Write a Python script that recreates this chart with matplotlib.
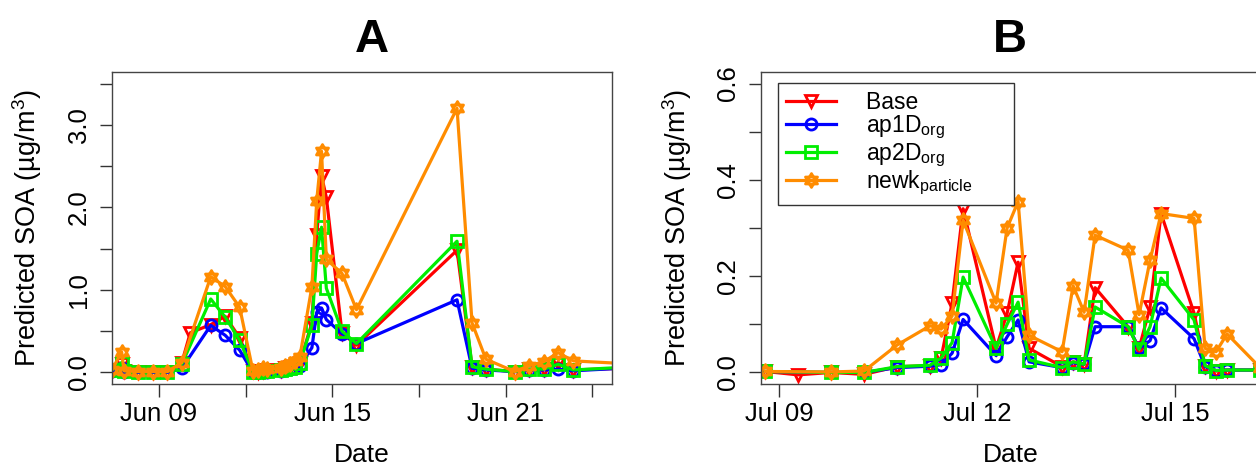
import numpy as np
import pandas as pd
import matplotlib
matplotlib.use('Agg')
import matplotlib.pyplot as plt
import matplotlib.dates as mdates
from matplotlib.path import Path
from matplotlib.ticker import FixedLocator, NullFormatter

plt.rcParams['font.family'] = ['Liberation Sans', 'DejaVu Sans']
plt.rcParams['mathtext.fontset'] = 'custom'
plt.rcParams['mathtext.rm'] = 'Liberation Sans'
plt.rcParams['mathtext.it'] = 'Liberation Sans:italic'
plt.rcParams['mathtext.bf'] = 'Liberation Sans:bold'

nan = np.nan

# ---- panel A: June 2013 ----
times_a = ["06-07 09:00", "06-07 17:00", "06-07 19:00", "06-08 07:00", "06-08 19:00",
           "06-09 07:00", "06-09 19:00", "06-10 02:00", "06-10 19:00", "06-11 07:00",
           "06-11 19:00", "06-12 06:00", "06-12 10:00", "06-12 14:00", "06-12 18:00",
           "06-13 05:00", "06-13 09:00", "06-13 13:00", "06-13 17:00", "06-13 21:00",
           "06-14 07:00", "06-14 11:00", "06-14 15:00", "06-14 19:00", "06-15 08:00",
           "06-15 20:00", "06-19 07:30", "06-19 20:00", "06-20 07:30", "06-21 07:30",
           "06-21 19:00", "06-22 07:30", "06-22 19:30", "06-23 08:00", "06-24 23:00"]
base_a = [0.03, 0.10, 0.02, 0.01, 0.01, 0.01, 0.12, 0.48, 0.58, 0.68,
          0.42, 0.02, 0.01, 0.02, 0.03, 0.03, 0.05, 0.06, 0.08, 0.12,
          0.60, 1.66, 2.38, 2.12, 0.48, 0.33, 1.48, 0.07, 0.04, 0.01,
          0.04, 0.04, 0.12, 0.03, 0.05]
ap1d_a = [0.02, 0.05, 0.01, 0.00, 0.00, 0.00, 0.05, nan, 0.57, 0.45,
          0.27, 0.00, 0.00, 0.01, 0.01, 0.02, 0.03, 0.04, 0.05, 0.08,
          0.30, 0.73, 0.78, 0.64, 0.47, 0.35, 0.88, 0.05, 0.03, 0.01,
          0.03, 0.03, 0.04, 0.02, 0.05]
ap2d_a = [0.03, 0.12, 0.02, 0.01, 0.01, 0.01, 0.10, nan, 0.89, 0.67,
          0.39, 0.01, 0.01, 0.02, 0.02, 0.03, 0.04, 0.05, 0.07, 0.12,
          0.57, 1.44, 1.76, 1.02, 0.50, 0.35, 1.59, 0.07, 0.04, 0.01,
          0.04, 0.04, 0.10, 0.03, 0.06]
newk_a = [0.03, 0.25, 0.02, 0.01, 0.01, 0.01, 0.12, nan, 1.16, 1.04,
          0.79, 0.02, 0.03, 0.05, 0.04, 0.05, 0.08, 0.10, 0.14, 0.19,
          1.04, 2.08, 2.68, 1.37, 1.20, 0.76, 3.20, 0.60, 0.16, 0.01,
          0.08, 0.13, 0.24, 0.14, 0.11]

# ---- panel B: July 2013 ----
times_b = ["07-08 19:00", "07-09 07:00", "07-09 19:00", "07-10 07:00", "07-10 19:00",
           "07-11 07:00", "07-11 11:00", "07-11 15:00", "07-11 19:00", "07-12 07:00",
           "07-12 11:00", "07-12 15:00", "07-12 19:00", "07-13 07:00", "07-13 11:00",
           "07-13 15:00", "07-13 19:00", "07-14 07:00", "07-14 11:00", "07-14 15:00",
           "07-14 19:00", "07-15 07:00", "07-15 11:00", "07-15 15:00", "07-15 19:00",
           "07-16 07:00"]
base_b = [0.002, -0.005, 0.000, -0.004, 0.012, 0.014, 0.030, 0.144, 0.340, 0.050,
          0.123, 0.229, 0.050, 0.012, 0.022, 0.017, 0.176, 0.095, 0.050, 0.136,
          0.330, 0.123, 0.014, 0.003, 0.005, 0.005]
ap1d_b = [0.002, nan, 0.000, 0.000, 0.010, 0.013, 0.016, 0.040, 0.110, 0.035,
          0.074, 0.109, 0.022, 0.010, 0.020, 0.017, 0.095, 0.095, 0.050, 0.066,
          0.134, 0.070, 0.012, 0.004, 0.005, 0.005]
ap2d_b = [0.002, nan, 0.000, 0.000, 0.012, 0.015, 0.030, 0.062, 0.198, 0.050,
          0.100, 0.146, 0.026, 0.010, 0.022, 0.017, 0.136, 0.095, 0.048, 0.095,
          0.196, 0.109, 0.014, 0.004, 0.005, 0.005]
newk_b = [0.002, nan, 0.001, 0.003, 0.057, 0.097, 0.090, 0.117, 0.316, 0.144,
          0.300, 0.355, 0.077, 0.043, 0.180, 0.125, 0.285, 0.254, 0.120, 0.233,
          0.330, 0.320, 0.050, 0.043, 0.080, 0.010]

labels = ['Base', r'ap1D$_{\mathrm{org}}$', r'ap2D$_{\mathrm{org}}$', r'newk$_{\mathrm{particle}}$']
colors = ['#FF0000', '#0000FF', '#00EE00', '#FF8C00']

# R pch=11: up and down triangles overlaid
star = Path([(0, 1), (-0.866, -0.5), (0.866, -0.5), (0, 1),
             (0, -1), (-0.866, 0.5), (0.866, 0.5), (0, -1)],
            [Path.MOVETO, Path.LINETO, Path.LINETO, Path.CLOSEPOLY] * 2)
markers = ['v', 'o', 's', star]
msizes = [9, 8, 8, 10]

W, H = 1256, 468
fig = plt.figure(figsize=(W / 100, H / 100), dpi=100)
axA = fig.add_axes([112 / W, (H - 384) / H, 500 / W, 312 / H])
axB = fig.add_axes([761 / W, (H - 384) / H, 500 / W, 312 / H])


def draw(ax, times, year, series):
    t = pd.to_datetime([f"{year}-{s}" for s in times])
    for vals, col, mk, ms, lab in zip(series, colors, markers, msizes, labels):
        v = np.array(vals, dtype=float)
        m = np.isfinite(v)
        ax.plot(t[m], v[m], color=col, lw=2.3, marker=mk, ms=ms, mew=2.0,
                mfc='none', mec=col, label=lab)


draw(axA, times_a, 2013, [base_a, ap1d_a, ap2d_a, newk_a])
draw(axB, times_b, 2013, [base_b, ap1d_b, ap2d_b, newk_b])

axA.set_xlim(pd.Timestamp('2013-06-07 09:00'), pd.Timestamp('2013-06-24 16:12'))
axB.set_xlim(pd.Timestamp('2013-07-08 17:30'), pd.Timestamp('2013-07-16 07:20'))
axA.set_ylim(-0.14, 3.64)
axB.set_ylim(-0.024, 0.624)

axA.xaxis.set_major_locator(FixedLocator(mdates.date2num(pd.to_datetime(['2013-06-09', '2013-06-15', '2013-06-21']))))
axA.xaxis.set_minor_locator(FixedLocator(mdates.date2num(pd.to_datetime(['2013-06-12', '2013-06-18', '2013-06-24']))))
axB.xaxis.set_major_locator(FixedLocator(mdates.date2num(pd.to_datetime(['2013-07-09', '2013-07-12', '2013-07-15']))))
axB.xaxis.set_minor_locator(FixedLocator([]))

axA.set_yticks([0, 1, 2, 3], ['0.0', '1.0', '2.0', '3.0'], rotation=90, va='center')
axA.set_yticks([0.5, 1.5, 2.5, 3.5], minor=True)
axB.set_yticks([0, 0.2, 0.4, 0.6], ['0.0', '0.2', '0.4', '0.6'], rotation=90, va='center')
axB.set_yticks([0.1, 0.3, 0.5], minor=True)

for ax, title, tx in [(axA, 'A', 0.52), (axB, 'B', 0.498)]:
    ax.xaxis.set_major_formatter(mdates.DateFormatter('%b %d'))
    ax.xaxis.set_minor_formatter(NullFormatter())
    ax.tick_params(which='both', direction='out', length=9, width=1, color='#333333',
                   labelsize=18.5, pad=4)
    ax.tick_params(axis='y', which='both', pad=6)
    for sp in ax.spines.values():
        sp.set_color('#444444')
        sp.set_linewidth(1)
    ax.set_xlabel('Date', fontsize=19)
    ax.xaxis.set_label_coords(0.5, -0.19)
    ax.set_ylabel('Predicted SOA (µg/m$^3$)', fontsize=19.5)
    ax.yaxis.set_label_coords(-0.135, 0.5)
    ax.text(tx, 1.103, title, transform=ax.transAxes, ha='center', va='center',
            fontsize=34, fontweight='bold')

# R legends leave extra room on the right; pad the labels to mimic it
leg = axB.legend(labels=[lab + '      ' for lab in labels],
                 loc='upper left', bbox_to_anchor=(0.034, 0.965), borderaxespad=0,
                 fontsize=16.5, frameon=True, fancybox=False, framealpha=1,
                 handlelength=2.2, handletextpad=1.3, labelspacing=0.0,
                 borderpad=0.35)
leg.get_frame().set_edgecolor('#333333')
leg.get_frame().set_linewidth(1)

fig.savefig('out.png', dpi=100)
